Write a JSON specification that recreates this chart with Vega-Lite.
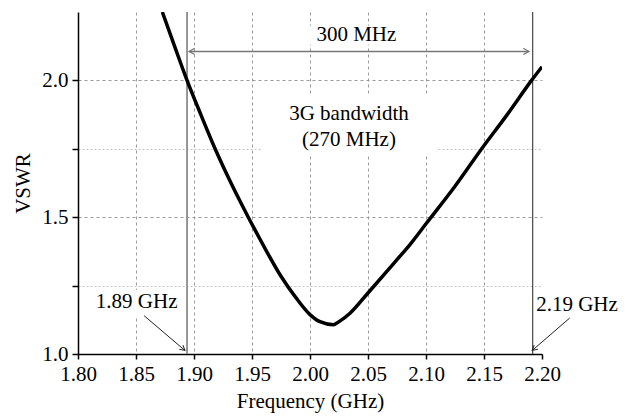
{
  "$schema": "https://vega.github.io/schema/vega-lite/v6.json",
  "width": 464,
  "height": 342,
  "autosize": {"type": "none"},
  "padding": {"left": 78, "top": 12, "right": 92, "bottom": 65},
  "background": "white",
  "config": {
    "view": {"stroke": null},
    "font": "Liberation Serif",
    "text": {"font": "Liberation Serif", "fontSize": 21, "color": "black"}
  },
  "datasets": {
    "curve": [
      {"f": 1.8727, "vswr": 2.25},
      {"f": 1.883, "vswr": 2.128},
      {"f": 1.894, "vswr": 2.0},
      {"f": 1.906, "vswr": 1.874},
      {"f": 1.918, "vswr": 1.752},
      {"f": 1.932, "vswr": 1.624},
      {"f": 1.9468, "vswr": 1.5},
      {"f": 1.962, "vswr": 1.38},
      {"f": 1.975, "vswr": 1.284},
      {"f": 1.988, "vswr": 1.205},
      {"f": 2.0, "vswr": 1.144},
      {"f": 2.0086, "vswr": 1.118},
      {"f": 2.0201, "vswr": 1.107},
      {"f": 2.026, "vswr": 1.121},
      {"f": 2.0345, "vswr": 1.149},
      {"f": 2.05, "vswr": 1.223},
      {"f": 2.075, "vswr": 1.345},
      {"f": 2.0862, "vswr": 1.4},
      {"f": 2.1, "vswr": 1.476},
      {"f": 2.125, "vswr": 1.613},
      {"f": 2.148, "vswr": 1.75},
      {"f": 2.17, "vswr": 1.875},
      {"f": 2.191, "vswr": 2.0},
      {"f": 2.2, "vswr": 2.05}
    ],
    "boxes": [
      {"f1": 1.958, "f2": 2.11, "v1": 1.728, "v2": 1.947},
      {"f1": 1.812, "f2": 1.889, "v1": 1.14, "v2": 1.235},
      {"f1": 1.998, "f2": 2.085, "v1": 2.13, "v2": 2.2}
    ],
    "labels": [
      {"f": 2.04, "v": 2.165, "t": "300 MHz"},
      {"f": 2.0336, "v": 1.878, "t": "3G bandwidth"},
      {"f": 2.0336, "v": 1.783, "t": "(270 MHz)"},
      {"f": 1.8506, "v": 1.189, "t": "1.89 GHz"},
      {"f": 2.2302, "v": 1.178, "t": "2.19 GHz"}
    ]
  },
  "layer": [
    {
      "data": {"name": "boxes"},
      "mark": {"type": "rect", "color": "white"},
      "encoding": {
        "x": {
          "field": "f1", "type": "quantitative",
          "scale": {"domain": [1.8, 2.2], "nice": false, "zero": false},
          "axis": {
            "title": "Frequency (GHz)",
            "values": [1.8, 1.825, 1.85, 1.875, 1.9, 1.925, 1.95, 1.975, 2.0, 2.025, 2.05, 2.075, 2.1, 2.125, 2.15, 2.175, 2.2],
            "labelExpr": "round(datum.value*1000) % 50 == 0 ? format(datum.value, '.2f') : ''",
            "labelFont": "Liberation Serif", "labelFontSize": 21, "labelColor": "black",
            "labelPadding": 4, "labelFlush": false, "labelOverlap": false,
            "titleFont": "Liberation Serif", "titleFontSize": 21, "titleFontWeight": "normal", "titleColor": "black",
            "titlePadding": 6,
            "domainColor": "black", "domainWidth": 1.5,
            "tickColor": "black", "tickWidth": 1.5, "tickSize": 5,
            "grid": true,
            "gridColor": {"condition": {"test": "round(datum.value*1000) % 50 == 0", "value": "#9a9a9a"}, "value": "#c4c4c4"},
            "gridDash": {"condition": {"test": "round(datum.value*1000) % 50 == 0", "value": [3, 3]}, "value": [2, 2]},
            "gridOpacity": {"condition": {"test": "datum.value > 2.19 || datum.value < 1.81", "value": 0}, "value": 1},
            "gridWidth": 1
          }
        },
        "x2": {"field": "f2"},
        "y": {
          "field": "v1", "type": "quantitative",
          "scale": {"domain": [1.0, 2.25], "nice": false, "zero": false},
          "axis": {
            "title": "VSWR",
            "values": [1.0, 1.25, 1.5, 1.75, 2.0],
            "labelExpr": "round(datum.value*100) % 50 == 0 ? format(datum.value, '.1f') : ''",
            "labelFont": "Liberation Serif", "labelFontSize": 21, "labelColor": "black",
            "labelPadding": 4, "labelFlush": false, "labelOverlap": false,
            "titleFont": "Liberation Serif", "titleFontSize": 21, "titleFontWeight": "normal", "titleColor": "black",
            "titlePadding": 8,
            "domainColor": "black", "domainWidth": 1.5,
            "tickColor": "black", "tickWidth": 1.5, "tickSize": 6,
            "grid": true,
            "gridColor": {"condition": {"test": "round(datum.value*100) % 50 == 0", "value": "#9a9a9a"}, "value": "#c4c4c4"},
            "gridDash": {"condition": {"test": "round(datum.value*100) % 50 == 0", "value": [3, 3]}, "value": [2, 2]},
            "gridOpacity": {"condition": {"test": "datum.value < 1.01", "value": 0}, "value": 1},
            "gridWidth": 1
          }
        },
        "y2": {"field": "v2"}
      }
    },
    {
      "data": {"values": [{"f": 1.894}]},
      "mark": {"type": "rule", "color": "#8c8c8c", "strokeWidth": 1.8},
      "encoding": {"x": {"field": "f", "type": "quantitative"}}
    },
    {
      "data": {"values": [{"f": 2.192}]},
      "mark": {"type": "rule", "color": "#222222", "strokeWidth": 1},
      "encoding": {"x": {"field": "f", "type": "quantitative"}}
    },
    {
      "data": {"values": [{"f1": 1.8957, "f2": 2.1888, "v": 2.106}]},
      "mark": {"type": "rule", "color": "#777777", "strokeWidth": 1.5},
      "encoding": {
        "x": {"field": "f1", "type": "quantitative"},
        "x2": {"field": "f2"},
        "y": {"field": "v", "type": "quantitative"}
      }
    },
    {
      "data": {"values": [{"f1": 1.857, "v1": 1.14, "f2": 1.8922, "v2": 1.013}, {"f1": 2.2239, "v1": 1.1316, "f2": 2.1916, "v2": 1.013}]},
      "mark": {"type": "rule", "color": "#222222", "strokeWidth": 1},
      "encoding": {
        "x": {"field": "f1", "type": "quantitative"},
        "x2": {"field": "f2"},
        "y": {"field": "v1", "type": "quantitative"},
        "y2": {"field": "v2"}
      }
    },
    {
      "data": {"values": [{"f": 1.8957, "v": 2.106}]},
      "mark": {"type": "point", "shape": "M-1,-0.55L0,0L-1,0.55", "filled": false, "stroke": "#777777", "strokeWidth": 1.2, "size": 130, "angle": 180, "opacity": 1},
      "encoding": {"x": {"field": "f", "type": "quantitative"}, "y": {"field": "v", "type": "quantitative"}}
    },
    {
      "data": {"values": [{"f": 2.1888, "v": 2.106}]},
      "mark": {"type": "point", "shape": "M-1,-0.55L0,0L-1,0.55", "filled": false, "stroke": "#777777", "strokeWidth": 1.2, "size": 130, "angle": 0, "opacity": 1},
      "encoding": {"x": {"field": "f", "type": "quantitative"}, "y": {"field": "v", "type": "quantitative"}}
    },
    {
      "data": {"values": [{"f": 1.8922, "v": 1.013}]},
      "mark": {"type": "point", "shape": "M-1,-0.55L0,0L-1,0.55", "filled": false, "stroke": "#222222", "strokeWidth": 1, "size": 100, "angle": 40, "opacity": 1},
      "encoding": {"x": {"field": "f", "type": "quantitative"}, "y": {"field": "v", "type": "quantitative"}}
    },
    {
      "data": {"values": [{"f": 2.1916, "v": 1.013}]},
      "mark": {"type": "point", "shape": "M-1,-0.55L0,0L-1,0.55", "filled": false, "stroke": "#222222", "strokeWidth": 1, "size": 100, "angle": 139, "opacity": 1},
      "encoding": {"x": {"field": "f", "type": "quantitative"}, "y": {"field": "v", "type": "quantitative"}}
    },
    {
      "data": {"name": "curve"},
      "mark": {"type": "line", "color": "black", "strokeWidth": 3.5, "interpolate": "monotone", "clip": true},
      "encoding": {
        "x": {"field": "f", "type": "quantitative"},
        "y": {"field": "vswr", "type": "quantitative"}
      }
    },
    {
      "data": {"name": "labels"},
      "mark": {"type": "text", "align": "center", "baseline": "middle"},
      "encoding": {
        "x": {"field": "f", "type": "quantitative"},
        "y": {"field": "v", "type": "quantitative"},
        "text": {"field": "t"}
      }
    }
  ]
}
